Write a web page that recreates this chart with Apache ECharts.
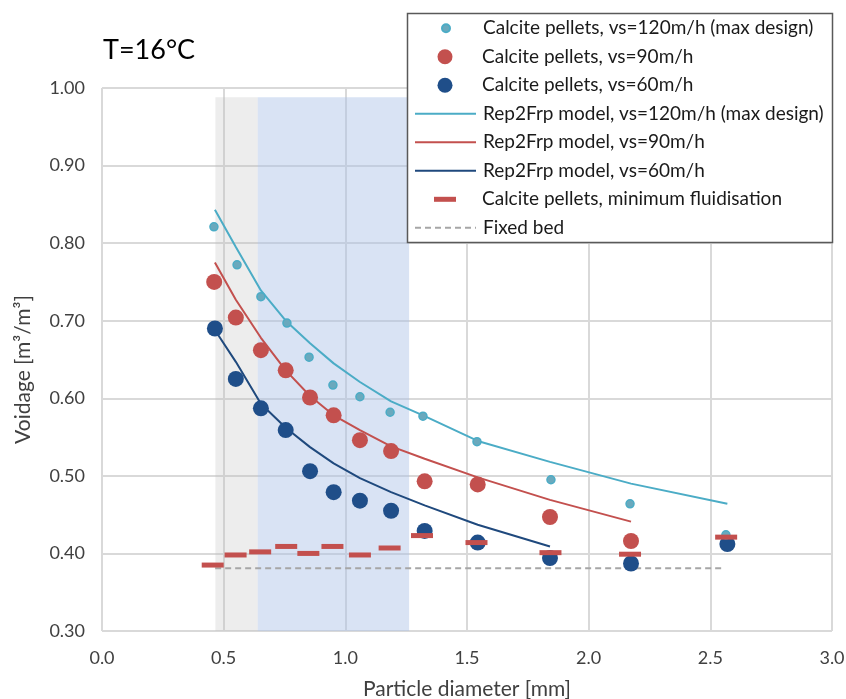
<!DOCTYPE html>
<html>
<head>
<meta charset="utf-8">
<script src="https://cdn.jsdelivr.net/npm/echarts@6/dist/echarts.min.js"></script>
<style>
  html,body{margin:0;padding:0;background:#fff;}
  #main{width:846px;height:699px;}
</style>
</head>
<body>
<div id="main"></div>
<script>
// measured points, particle diameter [mm] vs voidage
var dia120 = [0.46, 0.555, 0.653, 0.76, 0.851, 0.949, 1.06, 1.184, 1.319, 1.541, 1.845, 2.17, 2.564];
var void120 = [0.821, 0.772, 0.731, 0.697, 0.653, 0.617, 0.602, 0.582, 0.577, 0.544, 0.495, 0.464, 0.424];
var dia90 = [0.461, 0.55, 0.653, 0.755, 0.855, 0.952, 1.06, 1.188, 1.326, 1.544, 1.841, 2.174];
var void90 = [0.75, 0.704, 0.662, 0.636, 0.601, 0.578, 0.546, 0.532, 0.493, 0.489, 0.447, 0.416];
var dia60 = [0.464, 0.55, 0.653, 0.755, 0.855, 0.952, 1.06, 1.188, 1.326, 1.544, 1.841, 2.174, 2.57];
var void60 = [0.69, 0.625, 0.587, 0.559, 0.506, 0.479, 0.468, 0.455, 0.429, 0.414, 0.394, 0.387, 0.412];
// model lines
var modelX120 = [0.464, 0.55, 0.653, 0.755, 0.855, 0.952, 1.06, 1.188, 1.326, 1.544, 1.841, 2.174, 2.57];
var modelY120 = [0.843, 0.795, 0.739, 0.700, 0.671, 0.645, 0.621, 0.596, 0.577, 0.545, 0.518, 0.490, 0.464];
var modelX90 = [0.464, 0.55, 0.653, 0.755, 0.855, 0.952, 1.06, 1.188, 1.326, 1.544, 1.841, 2.174];
var modelY90 = [0.775, 0.727, 0.678, 0.636, 0.603, 0.578, 0.559, 0.538, 0.522, 0.498, 0.469, 0.441];
var modelX60 = [0.464, 0.55, 0.653, 0.755, 0.855, 0.952, 1.06, 1.188, 1.326, 1.544, 1.841];
var modelY60 = [0.688, 0.647, 0.593, 0.562, 0.537, 0.516, 0.497, 0.479, 0.462, 0.437, 0.409];
// minimum fluidisation
var minFluX = [0.455, 0.549, 0.65, 0.757, 0.848, 0.947, 1.06, 1.182, 1.315, 1.539, 1.843, 2.17, 2.565];
var minFluY = [0.385, 0.398, 0.402, 0.409, 0.400, 0.409, 0.398, 0.407, 0.423, 0.414, 0.401, 0.399, 0.421];
// fixed bed
var fixedX = [0.465, 2.56];
var fixedY = [0.381, 0.381];
// shaded ranges
var greyRange = [0.466, 0.64];
var blueRange = [0.64, 1.262];
var shadeY = [0.3, 0.988];

var names = [
  "Calcite pellets, vs=120m/h (max design)",
  "Calcite pellets, vs=90m/h",
  "Calcite pellets, vs=60m/h",
  "Rep2Frp model, vs=120m/h (max design)",
  "Rep2Frp model, vs=90m/h",
  "Rep2Frp model, vs=60m/h",
  "Calcite pellets, minimum fluidisation",
  "Fixed bed"
];

var cyan = "#4bacc6", red = "#c3504e", blue = "#1f4e89";
var font = "Lato";

function pairs(xs, ys) {
  var out = [];
  for (var i = 0; i < xs.length; i++) { out.push([xs[i], ys[i]]); }
  return out;
}

var chart = echarts.init(document.getElementById("main"));

// one legend per row so each symbol keeps its own size
var rowTop = 28.3, rowGap = 28.5, symX = 445, textX = 482;
var iconSize = [[8, 8], [15, 15], [15, 15], [61, 3], [61, 3], [61, 3], [22, 5], [61, 3]];
var legends = [];
for (var i = 0; i < names.length; i++) {
  var w = iconSize[i][0];
  var isLine = w > 30;
  var left = isLine ? 414 : symX - w / 2;
  var lg = {
    data: [names[i]],
    left: left,
    top: rowTop + i * rowGap - 11,
    padding: 0,
    itemWidth: w,
    itemHeight: iconSize[i][1],
    selectedMode: false,
    z: 20,
    textStyle: {
      fontFamily: font, fontSize: 19, color: "#1a1a1a", lineHeight: 22,
      padding: [0, 0, 0, textX - (left + w + 5)]
    }
  };
  if (isLine) { lg.itemStyle = { opacity: 0 }; }
  legends.push(lg);
}

chart.setOption({
  backgroundColor: "#fff",
  animation: false,
  title: {
    text: "T=16°C",
    left: 98, top: 32,
    textStyle: { fontFamily: font, fontSize: 27, fontWeight: "normal", color: "#000" }
  },
  legend: legends,
  graphic: [{
    type: "rect", z: 15,
    shape: { x: 407.5, y: 13.5, width: 425, height: 229 },
    style: { fill: "#fff", stroke: "#595959", lineWidth: 1.5 }
  }],
  grid: { left: 102, right: 14, top: 88, bottom: 68, outerBoundsMode: "none" },
  xAxis: {
    type: "value", min: 0, max: 3, interval: 0.5,
    name: "Particle diameter [mm]", nameLocation: "middle", nameGap: 48,
    nameTextStyle: { fontFamily: font, fontSize: 21, color: "#404040" },
    axisLine: { show: false },
    axisTick: { show: false },
    axisLabel: {
      fontFamily: font, fontSize: 18, color: "#404040", margin: 18,
      formatter: function (v) { return v.toFixed(1); }
    },
    splitLine: { lineStyle: { color: "#d9d9d9", width: 2 } }
  },
  yAxis: {
    type: "value", min: 0.3, max: 1.0, interval: 0.1,
    name: "Voidage [m³/m³]", nameLocation: "middle", nameGap: 68, nameRotate: 90,
    nameTextStyle: { fontFamily: font, fontSize: 21, color: "#404040", padding: [0, 20, 0, 0] },
    axisLine: { show: false },
    axisTick: { show: false },
    axisLabel: {
      fontFamily: font, fontSize: 18, color: "#404040", margin: 17,
      formatter: function (v) { return v.toFixed(2); }
    },
    splitLine: { lineStyle: { color: "#d9d9d9", width: 2 } }
  },
  series: [
    {
      name: names[0], type: "scatter", symbol: "circle", symbolSize: 8, z: 5,
      itemStyle: { color: "#6aa9bd", borderColor: cyan, borderWidth: 1.5, opacity: 1 },
      data: pairs(dia120, void120)
    },
    {
      name: names[1], type: "scatter", symbol: "circle", symbolSize: 16, z: 4,
      itemStyle: { color: red, opacity: 1 },
      data: pairs(dia90, void90)
    },
    {
      name: names[2], type: "scatter", symbol: "circle", symbolSize: 16, z: 4,
      itemStyle: { color: blue, opacity: 1 },
      data: pairs(dia60, void60)
    },
    {
      name: names[3], type: "line", symbol: "none", showSymbol: false, z: 3,
      lineStyle: { color: cyan, width: 2 }, itemStyle: { color: cyan },
      data: pairs(modelX120, modelY120)
    },
    {
      name: names[4], type: "line", symbol: "none", showSymbol: false, z: 3,
      lineStyle: { color: red, width: 2 }, itemStyle: { color: red },
      data: pairs(modelX90, modelY90)
    },
    {
      name: names[5], type: "line", symbol: "none", showSymbol: false, z: 3,
      lineStyle: { color: "#1f497d", width: 2 }, itemStyle: { color: "#1f497d" },
      data: pairs(modelX60, modelY60)
    },
    {
      name: names[6], type: "scatter", symbol: "rect", symbolSize: [22, 5], z: 6,
      itemStyle: { color: red, opacity: 1 },
      data: pairs(minFluX, minFluY)
    },
    {
      name: names[7], type: "line", symbol: "none", showSymbol: false, z: 2,
      lineStyle: { color: "#a6a6a6", width: 2, type: [6, 4] }, itemStyle: { color: "#a6a6a6" },
      data: pairs(fixedX, fixedY),
      markArea: {
        silent: true,
        data: [
          [{ xAxis: greyRange[0], yAxis: shadeY[0], itemStyle: { color: "rgba(190,190,190,0.28)" } },
           { xAxis: greyRange[1], yAxis: shadeY[1] }],
          [{ xAxis: blueRange[0], yAxis: shadeY[0], itemStyle: { color: "rgba(170,193,230,0.45)" } },
           { xAxis: blueRange[1], yAxis: shadeY[1] }]
        ]
      }
    }
  ]
});
</script>
</body>
</html>
